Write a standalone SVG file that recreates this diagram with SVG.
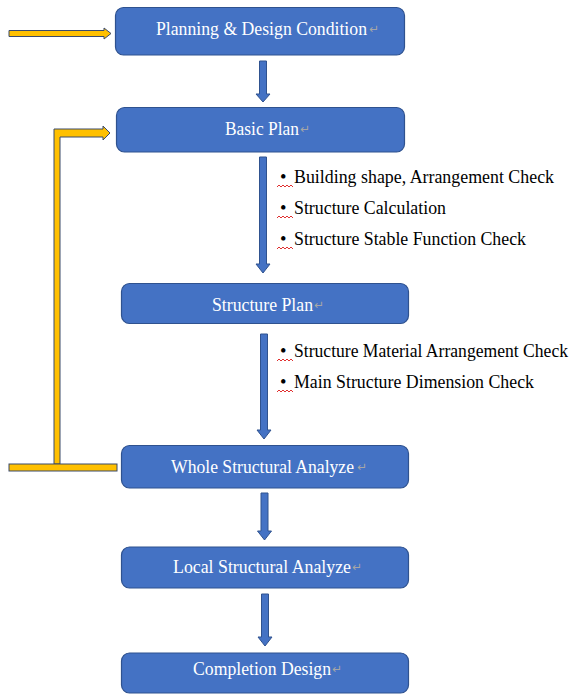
<svg xmlns="http://www.w3.org/2000/svg" width="573" height="695" viewBox="0 0 573 695">
<style>
.box{fill:#4472C4;stroke:#2F528F;stroke-width:1.2}
.bt{fill:#FFFFFF;font-family:"Liberation Serif","Times New Roman","DejaVu Serif",serif;font-size:18px}
.rt{fill:#A6A6A6;font-family:"DejaVu Sans",sans-serif;font-size:12px}
.arr{fill:#4472C4;stroke:#2F528F;stroke-width:1}
.yel{fill:#FFC000;stroke:#3B4A6B;stroke-width:1}
.lt{fill:#000000;font-family:"Liberation Serif","Times New Roman","DejaVu Serif",serif;font-size:18.5px}
.sq{fill:none;stroke:#E03030;stroke-width:1}
</style>
<rect width="573" height="695" fill="#FFFFFF"/>
<g id="connectors">
<polygon class="yel" points="9,30.5 104,30.5 104,28 111,33.5 104,39 104,36.5 9,36.5"/>
<polygon class="yel" points="54,464 54,129 103,129 103,126 110,133 103,140 103,137 60,137 60,464"/>
<rect class="yel" x="9" y="464" width="108" height="7"/>
<polygon class="arr" points="259.5,61 266.5,61 266.5,94 270,94 263,102 256,94 259.5,94"/>
<polygon class="arr" points="259.5,157 266.5,157 266.5,264 270,264 263,273 256,264 259.5,264"/>
<polygon class="arr" points="260.5,334 267.5,334 267.5,430 271,430 264,439 257,430 260.5,430"/>
<polygon class="arr" points="261,493 268,493 268,531 271.5,531 264.5,540 257.5,531 261,531"/>
<polygon class="arr" points="261.5,594 268.5,594 268.5,637 272,637 265,646 258,637 261.5,637"/>
</g>
<g id="n1">
<rect class="box" x="115.5" y="7.5" width="289" height="47.5" rx="8"/>
<text class="bt" x="156" y="35" textLength="211" lengthAdjust="spacingAndGlyphs">Planning &amp; Design Condition</text>
<text class="rt" x="369" y="33">↵</text>
</g>
<g id="n2">
<rect class="box" x="116.5" y="107.5" width="288" height="44.5" rx="8"/>
<text class="bt" x="225" y="135" textLength="74" lengthAdjust="spacingAndGlyphs">Basic Plan</text>
<text class="rt" x="300" y="133">↵</text>
</g>
<g id="notes1">
<text class="lt" x="280" y="183">•</text>
<text class="lt" x="294" y="183" textLength="260" lengthAdjust="spacingAndGlyphs">Building shape, Arrangement Check</text>
<path class="sq" d="M277,187 l2,-2 l2,2 l2,-2 l2,2 l2,-2 l2,2 l2,-2 l2,2"/>
<text class="lt" x="280" y="214">•</text>
<text class="lt" x="294" y="214" textLength="152" lengthAdjust="spacingAndGlyphs">Structure Calculation</text>
<path class="sq" d="M277,218 l2,-2 l2,2 l2,-2 l2,2 l2,-2 l2,2 l2,-2 l2,2"/>
<text class="lt" x="280" y="245">•</text>
<text class="lt" x="294" y="245" textLength="232" lengthAdjust="spacingAndGlyphs">Structure Stable Function Check</text>
<path class="sq" d="M277,249 l2,-2 l2,2 l2,-2 l2,2 l2,-2 l2,2 l2,-2 l2,2"/>
</g>
<g id="n3">
<rect class="box" x="121.5" y="283.5" width="287" height="40" rx="8"/>
<text class="bt" x="212" y="311" textLength="101" lengthAdjust="spacingAndGlyphs">Structure Plan</text>
<text class="rt" x="314" y="309">↵</text>
</g>
<g id="notes2">
<text class="lt" x="280" y="357">•</text>
<text class="lt" x="294" y="357" textLength="274" lengthAdjust="spacingAndGlyphs" style="font-size:18px">Structure Material Arrangement Check</text>
<path class="sq" d="M277,361 l2,-2 l2,2 l2,-2 l2,2 l2,-2 l2,2 l2,-2 l2,2"/>
<text class="lt" x="280" y="388">•</text>
<text class="lt" x="294" y="388" textLength="240" lengthAdjust="spacingAndGlyphs">Main Structure Dimension Check</text>
<path class="sq" d="M277,392 l2,-2 l2,2 l2,-2 l2,2 l2,-2 l2,2 l2,-2 l2,2"/>
</g>
<g id="n4">
<rect class="box" x="121.5" y="445.5" width="287" height="42.5" rx="8"/>
<text class="bt" x="171" y="473" textLength="183" lengthAdjust="spacingAndGlyphs">Whole Structural Analyze</text>
<text class="rt" x="357" y="471">↵</text>
</g>
<g id="n5">
<rect class="box" x="121.5" y="547" width="287" height="41" rx="8"/>
<text class="bt" x="173" y="573" textLength="178" lengthAdjust="spacingAndGlyphs">Local Structural Analyze</text>
<text class="rt" x="352" y="571">↵</text>
</g>
<g id="n6">
<rect class="box" x="121.5" y="653" width="287" height="40" rx="8"/>
<text class="bt" x="193" y="675" textLength="138" lengthAdjust="spacingAndGlyphs">Completion Design</text>
<text class="rt" x="332" y="673">↵</text>
</g>
</svg>
